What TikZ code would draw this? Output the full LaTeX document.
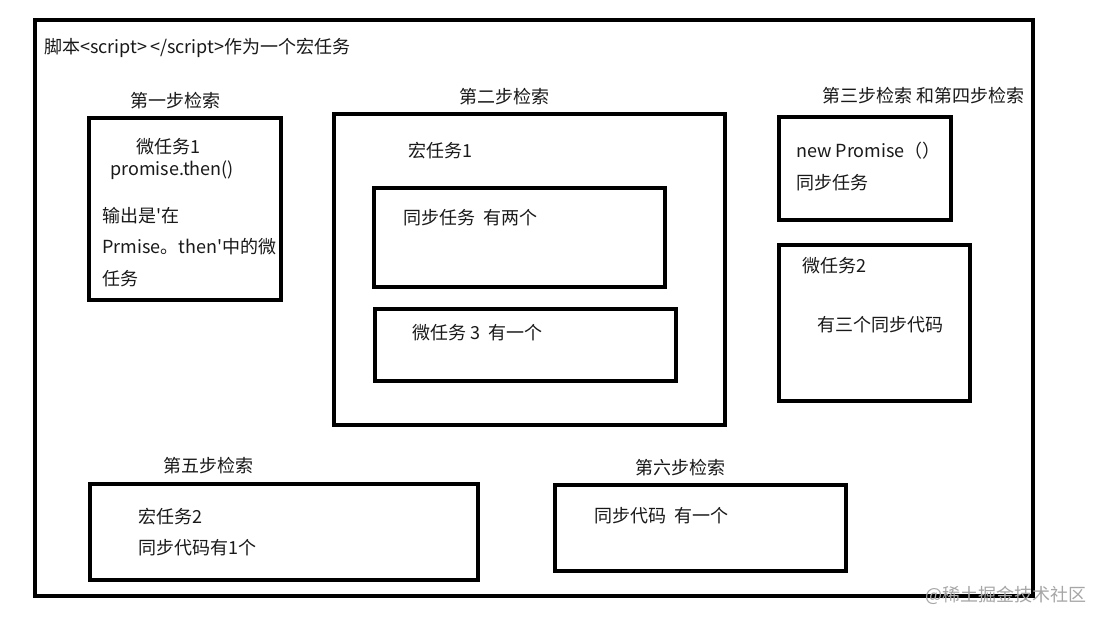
\documentclass[tikz,border=0pt]{standalone}
\usepackage{fontspec}
\setmainfont{Noto Sans CJK SC}[Ligatures=TeXOff]
\begin{document}
\begin{tikzpicture}[x=1pt,y=-1pt,
  frame/.style={draw=black,line width=4.6pt,inner sep=0pt},
  box/.style={draw=black,line width=4pt,inner sep=0pt},
  txt/.style={anchor=west,inner sep=0pt,font=\fontsize{18}{21}\selectfont,text=black!90}]
\useasboundingbox (0,0) rectangle (1102,623);
\fill[white] (0,0) rectangle (1102,623);
% boxes
\node[frame,minimum width=998pt,minimum height=576pt] (frame) at (534,308) {};
\node[box,minimum width=192pt,minimum height=182pt] (s1) at (185,209) {};
\node[box,minimum width=391pt,minimum height=311pt] (s2) at (529.5,269.5) {};
\node[box,minimum width=291pt,minimum height=99pt] (s2a) at (519.5,237.5) {};
\node[box,minimum width=301pt,minimum height=72pt] (s2b) at (525.5,345) {};
\node[box,minimum width=172pt,minimum height=103pt] (s3) at (865,168.5) {};
\node[box,minimum width=191pt,minimum height=156pt] (s4) at (874.5,323) {};
\node[box,minimum width=388pt,minimum height=96pt] (s5) at (284,532) {};
\node[box,minimum width=291pt,minimum height=86pt] (s6) at (700.5,528) {};
% texts
\node[txt] (title) at (44,48) {脚本<script>\hspace{3pt}</script>作为一个宏任务};
\node[txt] (l1) at (130,101) {第一步检索};
\node[txt] (t1a) at (136,147) {微任务1};
\node[txt] (t1b) at (110,170) {promise.then()};
\node[txt] (t1c) at (102,216) {输出是'在};
\node[txt] (t1d) at (102,247) {Prmise。then'中的微};
\node[txt] (t1e) at (102,279) {任务};
\node[txt] (l2) at (459,97) {第二步检索};
\node[txt] (t2a) at (408,151) {宏任务1};
\node[txt] (t2b) at (403,218) {同步任务\hspace{8pt}有两个};
\node[txt] (t2c) at (412,333) {微任务 3\hspace{8pt}有一个};
\node[txt] (l3) at (822,96) {第三步检索 和第四步检索};
\node[txt] (t3a) at (796,151) {new Promise（）};
\node[txt] (t3b) at (796,183) {同步任务};
\node[txt] (t4a) at (802,266) {微任务2};
\node[txt] (t4b) at (817,325) {有三个同步代码};
\node[txt] (l5) at (163,466) {第五步检索};
\node[txt] (t5a) at (138,517) {宏任务2};
\node[txt] (t5b) at (138,548) {同步代码有1个};
\node[txt] (l6) at (635,468) {第六步检索};
\node[txt] (t6a) at (594,516) {同步代码\hspace{8pt}有一个};
\node[txt,text=black!35] (wm) at (925,595) {@稀土掘金技术社区};
\end{tikzpicture}
\end{document}
